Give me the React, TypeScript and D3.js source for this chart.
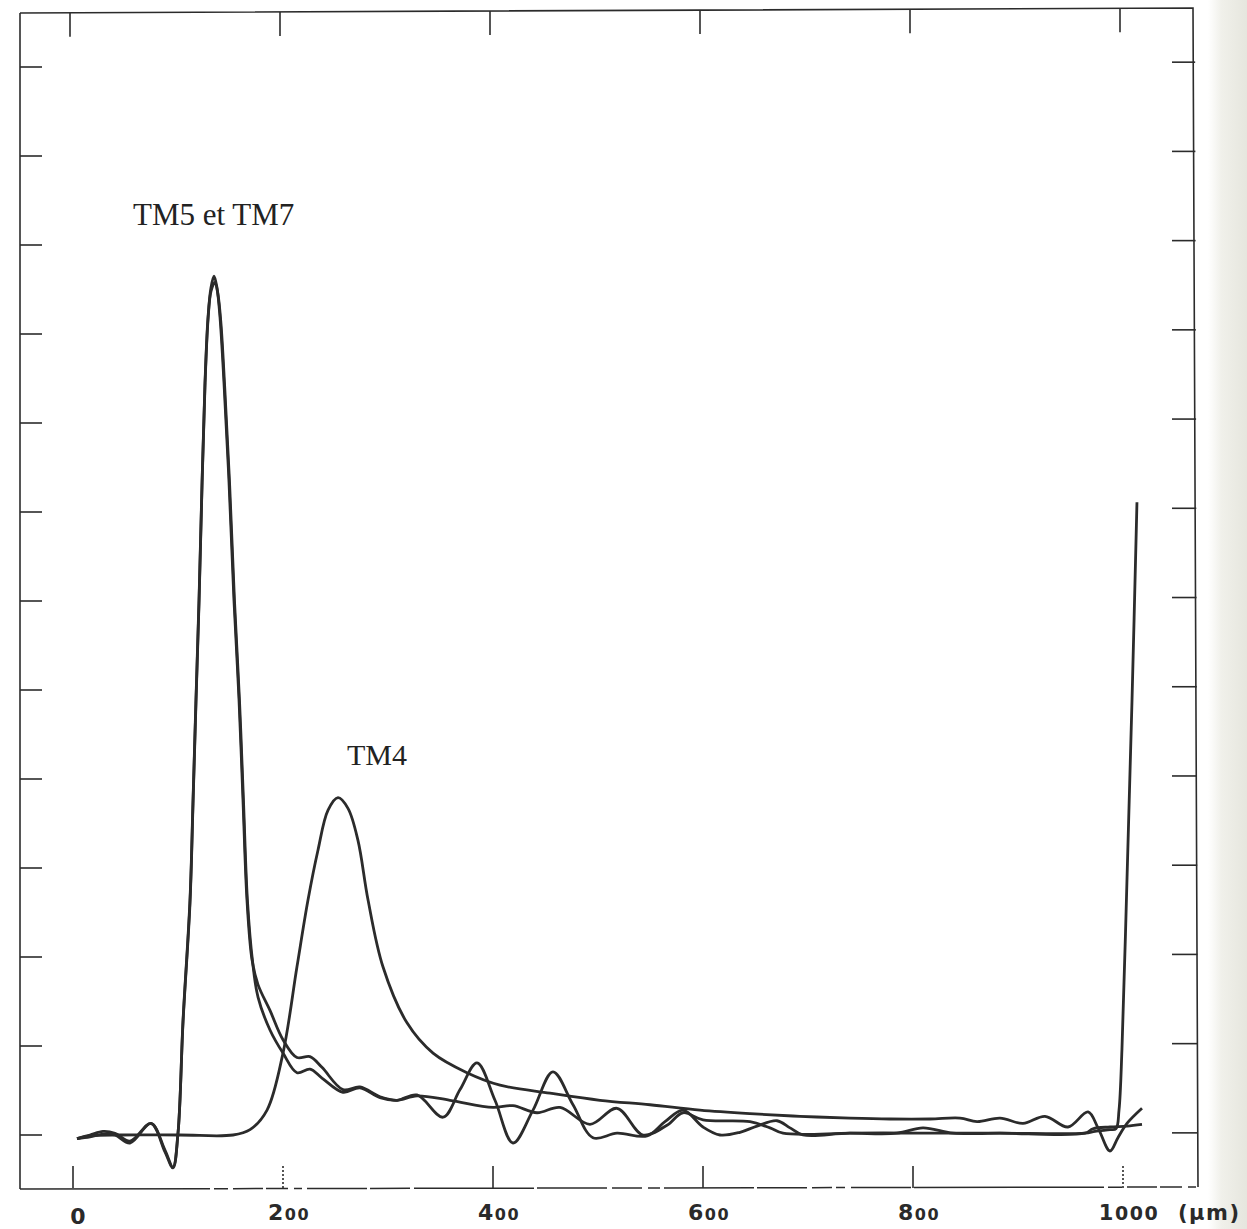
import React from "react";
import * as d3 from "d3";

// ---- data (x in µm, y in tick units of the original frame) ----
const xTickValues = [0, 200, 400, 600, 800, 1000];
const xTickLabels = ["0", "200", "400", "600", "800", "1000"];
const yTickValues = [0, 1, 2, 3, 4, 5, 6, 7, 8, 9, 10, 11, 12];
const xUnit = "(µm)";

const tm4: [number, number][] = [
  [3.8, -0.04], [16.2, -0.01], [44.8, 0], [101.9, 0], [152.4, 0], [168.6, 0.06],
  [184.8, 0.28], [200.0, 0.92], [213.3, 1.89], [223.8, 2.64], [233.3, 3.2],
  [242.9, 3.65], [252.4, 3.79], [261.9, 3.67], [271.4, 3.31], [281.0, 2.64],
  [295.2, 1.89], [318.1, 1.26], [342.9, 0.92], [375.2, 0.7], [406.7, 0.56],
  [454.3, 0.47], [501.9, 0.39], [549.5, 0.34], [597.1, 0.28], [644.8, 0.24],
  [692.4, 0.21], [740.0, 0.19], [778.1, 0.18], [816.2, 0.18], [844.8, 0.19],
  [861.0, 0.15], [882.9, 0.19], [904.8, 0.13], [925.7, 0.21], [947.6, 0.09],
  [966.7, 0.26], [976.2, 0.08], [987.6, -0.18], [995.2, -0.03], [1003.8, 0.13],
  [1018.1, 0.3],
];

const tm5: [number, number][] = [
  [3.8, -0.04], [16.2, 0], [28.6, 0.04], [40.0, 0.02], [54.3, -0.07], [74.3, 0.13],
  [87.6, -0.17], [95.2, -0.36], [100.0, 0.02], [104.8, 1.29], [111.4, 2.64],
  [114.3, 3.76], [117.1, 4.89], [120.0, 6.01], [122.9, 7.33], [125.7, 8.45],
  [128.6, 9.19], [131.4, 9.52], [134.3, 9.65], [137.1, 9.52], [140.0, 9.19],
  [143.8, 8.45], [148.6, 7.33], [153.3, 6.01], [158.1, 4.89], [161.9, 3.76],
  [165.7, 2.64], [170.5, 1.97], [176.2, 1.69], [187.6, 1.4], [200.0, 1.07],
  [213.3, 0.87], [225.7, 0.88], [237.1, 0.76], [257.1, 0.51], [273.3, 0.54],
  [292.4, 0.43], [308.6, 0.39], [327.6, 0.44], [359.0, 0.39], [400.0, 0.31],
  [419.0, 0.33], [441.9, 0.25], [463.8, 0.31], [492.4, 0.12], [518.1, 0.3],
  [542.9, 0], [565.7, 0.11], [581.0, 0.25], [600.0, 0.17], [644.8, 0.15],
  [663.8, 0.08], [676.2, 0.02], [740.0, 0.02], [784.8, 0.02], [809.5, 0.08],
  [838.1, 0.02], [882.9, 0.02], [963.8, 0.02], [971.4, 0.07], [987.6, 0.09],
  [1003.8, 0.1], [1018.1, 0.12],
];

const tm7: [number, number][] = [
  [3.8, -0.04], [16.2, -0.02], [28.6, 0.01], [40.0, 0], [54.3, -0.09], [74.3, 0.13],
  [87.6, -0.19], [95.2, -0.37], [100.0, 0.02], [104.8, 1.27], [111.4, 2.6],
  [114.3, 3.72], [117.1, 4.85], [120.0, 5.97], [122.9, 7.3], [125.7, 8.42],
  [128.6, 9.16], [131.4, 9.48], [135.2, 9.58], [138.0, 9.45], [140.9, 9.12],
  [144.5, 8.4], [149.2, 7.3], [153.8, 6.0], [158.6, 4.87], [162.4, 3.74],
  [166.2, 2.62], [171.0, 1.95], [176.2, 1.55], [187.6, 1.18], [200.0, 0.92],
  [213.3, 0.7], [225.7, 0.74], [237.1, 0.64], [257.1, 0.48], [273.3, 0.53],
  [292.4, 0.42], [308.6, 0.39], [327.6, 0.45], [352.4, 0.2], [368.6, 0.51],
  [384.8, 0.81], [401.9, 0.39], [419.0, -0.09], [438.1, 0.28], [457.1, 0.71],
  [476.2, 0.34], [495.2, -0.03], [518.1, 0.02], [546.7, -0.01], [563.8, 0.15],
  [581.0, 0.28], [600.0, 0.09], [616.2, 0], [635.2, 0.03], [651.4, 0.1],
  [670.5, 0.16], [682.9, 0.08], [695.2, 0], [740.0, 0.02], [835.2, 0.02],
  [882.9, 0.02], [963.8, 0.02], [973.3, 0.04], [987.6, 0.06], [993.3, 0.07],
  [996.2, 0.28], [999.0, 0.96], [1003.8, 2.87], [1008.6, 4.89], [1013.3, 7.11],
];

const labelTM57 = "TM5 et TM7";
const labelTM4 = "TM4";

const ink = "#2b2b2b";

export default function App() {
  const x = d3.scaleLinear().domain([0, 1000]).range([73, 1123]);
  const y = d3.scaleLinear().domain([0, 12]).range([1135, 67]);

  const line = d3
    .line<[number, number]>()
    .x((d) => x(d[0]))
    .y((d) => y(d[1]))
    .curve(d3.curveCatmullRom.alpha(0.5));

  const frameTop = (px: number) => 13 - ((px - 20) * 5) / 1173;
  const hand = "'DejaVu Sans', sans-serif";

  const smallZeros = (lab: string, i: number) => {
    const big = i === 5 ? 21 : 22;
    const small = i === 5 ? 19 : 16;
    return (
      <>
        <tspan fontSize={big}>{lab[0]}</tspan>
        <tspan fontSize={small}>{lab.slice(1)}</tspan>
      </>
    );
  };

  return (
    <svg
      width={1247}
      height={1229}
      style={{ position: "absolute", left: 0, top: 0, background: "#fff" }}
    >
      <defs>
        <linearGradient id="edge" x1="0" x2="1" y1="0" y2="0">
          <stop offset="0" stopColor="#ffffff" />
          <stop offset="0.35" stopColor="#f0f0ea" />
          <stop offset="1" stopColor="#e6e6de" />
        </linearGradient>
      </defs>
      <rect x={0} y={0} width={1247} height={1229} fill="#fff" />
      <rect x={1208} y={0} width={39} height={1229} fill="url(#edge)" />

      {/* frame */}
      <path d="M20,13 L1193,8 L1198,1187" fill="none" stroke={ink} strokeWidth={1.6} />
      <path d="M20,13 L20,1189" fill="none" stroke={ink} strokeWidth={1.6} />
      <path
        d="M20,1189 L1198,1187"
        fill="none"
        stroke={ink}
        strokeWidth={1.5}
        strokeDasharray="190 4 14 5 30 3 22 6 8 5 60 3 40 4 120 3 70 5 30 6 12 4 90 3 50 5 20 4 9 6 60 3"
      />

      {/* left / right ticks */}
      {yTickValues.map((v) => (
        <g key={"yt" + v}>
          <line x1={20} x2={42} y1={y(v)} y2={y(v)} stroke={ink} strokeWidth={1.6} />
          <line
            x1={1172}
            x2={1195 + (y(v) / 1187) * 3}
            y1={y(v) - 5 + (y(v) / 1187) * 3}
            y2={y(v) - 5 + (y(v) / 1187) * 3}
            stroke={ink}
            strokeWidth={1.6}
          />
        </g>
      ))}

      {/* top / bottom ticks */}
      {xTickValues.map((v, i) => (
        <g key={"xt" + v}>
          <line
            x1={x(v) - 3}
            x2={x(v) - 3}
            y1={frameTop(x(v) - 3)}
            y2={frameTop(x(v) - 3) + 24}
            stroke={ink}
            strokeWidth={1.6}
          />
          <line
            x1={x(v)}
            x2={x(v)}
            y1={1188}
            y2={1166}
            stroke={ink}
            strokeWidth={1.6}
            strokeDasharray={i === 1 || i === 5 ? "2 2" : undefined}
          />
        </g>
      ))}

      {/* curves */}
      <path d={line(tm4) ?? ""} fill="none" stroke={ink} strokeWidth={2.8} strokeLinejoin="round" />
      <path d={line(tm5) ?? ""} fill="none" stroke={ink} strokeWidth={2.8} strokeLinejoin="round" />
      <path d={line(tm7) ?? ""} fill="none" stroke={ink} strokeWidth={2.8} strokeLinejoin="round" />

      {/* series labels */}
      <text x={133} y={225} fontFamily="'Liberation Serif', 'Times New Roman', serif" fontSize={31} fill="#222">
        {labelTM57}
      </text>
      <text x={347} y={765} fontFamily="'Liberation Serif', 'Times New Roman', serif" fontSize={30} fill="#222">
        {labelTM4}
      </text>

      {/* handwritten-style x labels */}
      {xTickLabels.map((lab, i) =>
        i === 0 ? (
          <text
            key={lab}
            x={x(xTickValues[i]) + 5}
            y={1224}
            textAnchor="middle"
            fontFamily={hand}
            fontWeight="bold"
            fontSize={22}
            fill="#2a2a2a"
          >
            {lab}
          </text>
        ) : (
          <text
            key={lab}
            x={x(xTickValues[i]) + 6}
            y={1220}
            textAnchor="middle"
            fontFamily={hand}
            fontWeight="bold"
            letterSpacing={1.5}
            fill="#2a2a2a"
          >
            {smallZeros(lab, i)}
          </text>
        )
      )}
      <text x={1178} y={1220} fontFamily={hand} fontWeight="bold" fontSize={21} letterSpacing={1.5} fill="#2a2a2a">
        {xUnit}
      </text>
    </svg>
  );
}
